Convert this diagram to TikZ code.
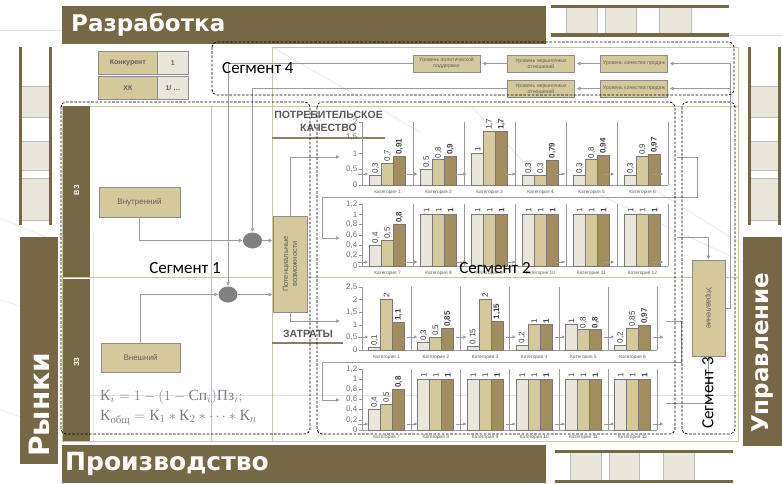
\documentclass[tikz,border=0pt]{standalone}
\usepackage{amsmath}
\usepackage{fontspec}
\setmainfont{Liberation Sans}
\newfontfamily\hdfont{DejaVu Sans}
\newfontfamily\segfont{Carlito}
\newfontfamily\frmfont{Liberation Serif}
\usetikzlibrary{arrows.meta,calc,shapes.geometric}
\definecolor{brownbar}{RGB}{118,103,69}
\definecolor{tanfill}{RGB}{213,201,155}
\definecolor{creamc}{RGB}{234,230,220}
\definecolor{darkbarc}{RGB}{163,141,94}
\definecolor{tanline}{RGB}{208,196,160}
\definecolor{conn}{RGB}{150,156,166}
\definecolor{boxline}{RGB}{140,140,140}
\definecolor{bargray}{RGB}{120,120,120}
\definecolor{txtgray}{RGB}{95,95,95}
\definecolor{faint}{RGB}{226,226,226}
\definecolor{ulc}{RGB}{140,128,98}
\definecolor{cellline}{RGB}{185,188,195}
\pgfkeys{/pgf/number format/.cd, use comma, assume math mode=true}

\newcommand{\chartrow}[8]{%
 \draw[axisl] (362,#5) -- (362,#1) -- ({362+6*#3},#1);
 \foreach \k in {1,...,6} \draw[axisl] ({362+\k*#3},#1) -- ({362+\k*#3},#5);
 \foreach \v [count=\n] in {#8} {%
   \draw[axisl] (359,{#1-\v*#2}) -- (362,{#1-\v*#2});
   \node[axlab] (t-#1-\n) at (357.5,{#1-\v*#2}) {\pgfmathprintnumber{\v}};
 }
 \foreach \i/\a/\b/\c in {#7} {%
   \pgfmathsetmacro\cx{362+(\i+0.5)*#3}%
   \pgfmathtruncatemacro\cnum{#4+\i}%
   \filldraw[barA] ({\cx-18},#1) rectangle ({\cx-6},{#1-\a*#2});
   \filldraw[barB] ({\cx-6},#1) rectangle ({\cx+6},{#1-\b*#2});
   \filldraw[barC] ({\cx+6},#1) rectangle ({\cx+18},{#1-\c*#2});
   \node[vlab] (va-#1-\i) at ({\cx-12},{#1-\a*#2-1}) {\pgfmathprintnumber{\a}};
   \node[vlab] (vb-#1-\i) at (\cx,{#1-\b*#2-1}) {\pgfmathprintnumber{\b}};
   \node[vlab,font=\bfseries\fontsize{8}{9}\selectfont] (vc-#1-\i) at ({\cx+12},{#1-\c*#2-1}) {\pgfmathprintnumber{\c}};
   \node[catlab] (cat-#1-\i) at (\cx,{#1+7}) {Категория \cnum};
 }
 \foreach \k in {0,...,6} \draw[minarr] ({358+\k*49.2},#6) -- ({368+\k*49.2},#6);
}

\begin{document}
\begin{tikzpicture}[x=1pt,y=-1pt,
 cn/.style={draw=conn, line width=0.7pt, -{Triangle[length=3.5pt,width=3.5pt]}, shorten >=0.5pt},
 cnl/.style={draw=conn, line width=0.7pt},
 seg/.style={draw=black, line width=0.75pt, dash pattern=on 2.6pt off 1.6pt, rounded corners=5pt},
 tbox/.style={draw=boxline, fill=tanfill, line width=0.8pt, inner sep=0pt, font=\fontsize{8}{9}\selectfont, text=txtgray},
 sbox/.style={tbox, font=\fontsize{5.2}{6}\selectfont, align=center, minimum width=67pt, minimum height=17pt},
 tcell/.style={draw=boxline, line width=0.8pt, inner sep=0pt, font=\bfseries\fontsize{7}{8}\selectfont, text=txtgray, minimum height=23pt, anchor=north west},
 hdbar/.style={fill=brownbar, text=white, font=\hdfont\bfseries\fontsize{23}{26}\selectfont, inner sep=0pt},
 hdtxt/.style={text=white, font=\hdfont\bfseries\fontsize{23}{26}\selectfont, inner sep=0pt},
 seglab/.style={font=\segfont\fontsize{17}{19}\selectfont, text=black, inner sep=0pt},
 vlab/.style={rotate=90, anchor=west, inner sep=0.5pt, font=\fontsize{8}{9}\selectfont, text=black!75},
 catlab/.style={font=\fontsize{4.8}{5}\selectfont, text=txtgray, inner sep=0pt},
 axlab/.style={anchor=east, font=\fontsize{8}{9}\selectfont, text=black!55, inner sep=0pt},
 axisl/.style={draw=black!40, line width=0.6pt},
 barA/.style={fill=creamc, draw=bargray, line width=0.8pt},
 barB/.style={fill=tanfill, draw=bargray, line width=0.8pt},
 barC/.style={fill=darkbarc, draw=bargray, line width=0.8pt},
 minarr/.style={draw=conn, line width=0.6pt, -{Triangle[length=3pt,width=3pt]}},
 faintl/.style={draw=faint, line width=0.6pt},
 ladder/.style={fill=brownbar},
 lcell/.style={fill=creamc, draw=cellline, line width=0.8pt},
 lanebar/.style={fill=brownbar, text=white, font=\bfseries\fontsize{7.5}{8}\selectfont, inner sep=0pt},
 circ/.style={ellipse, fill=black!50, minimum width=19pt, minimum height=16pt, inner sep=0pt},
 ul/.style={draw=ulc, line width=1.6pt},
 bigcap/.style={font=\bfseries\fontsize{10.5}{12.5}\selectfont, text=black!65, align=center, inner sep=0pt}
]
\useasboundingbox (0,0) rectangle (782,483);
\fill[white] (0,0) rectangle (782,483);

% faint background lines
\draw[faintl] (0,30) -- (62,30);
\draw[faintl] (729,35) -- (782,35);
\draw[faintl] (0,218) -- (62,244);
\draw[faintl] (0,300) -- (62,318);
\draw[faintl] (0,410) -- (62,430);
\draw[faintl] (272,47) -- (420,132);
\draw[faintl] (470,105) -- (560,200);
\draw[faintl] (600,195) -- (743,262);
\draw[faintl] (650,187) -- (743,245);
\draw[faintl] (90,395) -- (738,395);
\draw[faintl] (93,232) -- (93,441);

% ladders
\fill[ladder] (551,5) rectangle (729,8);
\fill[ladder] (551,33) rectangle (729,37);
\foreach \a/\b in {566/597,605/636,659/691}{\fill[creamc] (\a,8) rectangle (\b,33); \draw[cellline,line width=0.8pt] (\a,8) -- (\a,33) (\b,8) -- (\b,33);}
\fill[ladder] (555,450) rectangle (733,453);
\fill[ladder] (555,480) rectangle (733,483);
\foreach \a/\b in {570/601,609/639,663/694}{\fill[creamc] (\a,453) rectangle (\b,480); \draw[cellline,line width=0.8pt] (\a,453) -- (\a,480) (\b,453) -- (\b,480);}
\fill[ladder] (19,47) rectangle (22,225);
\fill[ladder] (49,47) rectangle (52,225);
\fill[ladder] (748,47) rectangle (751,225);
\fill[ladder] (778,47) rectangle (781,225);
\foreach \a/\b in {86/117,141/170,178/220}{
  \fill[creamc] (22,\a) rectangle (49,\b); \draw[cellline,line width=0.8pt] (22,\a) -- (49,\a) (22,\b) -- (49,\b);
  \fill[creamc] (751,\a) rectangle (778,\b); \draw[cellline,line width=0.8pt] (751,\a) -- (778,\a) (751,\b) -- (778,\b);}

% header bars
\node[hdbar, anchor=north west, minimum height=38pt, text width=466pt, inner xsep=9pt] (razr) at (62,6) {Разработка};
\node[hdbar, anchor=north west, minimum height=38pt, text width=478pt, inner xsep=3pt, font=\hdfont\bfseries\fontsize{25}{28}\selectfont] (proizv) at (62,445) {Производство};
\node[fill=brownbar, anchor=north west, minimum width=38pt, minimum height=227pt, inner sep=0pt] (rynbar) at (20,237) {};
\node[hdtxt, rotate=90, anchor=west, font=\hdfont\bfseries\fontsize{28}{30}\selectfont] (ryntxt) at (39.5,457) {Рынки};
\node[fill=brownbar, anchor=north west, minimum width=39pt, minimum height=209pt, inner sep=0pt] (uprbar) at (743,237) {};
\node[hdtxt, rotate=90, anchor=west] (uprtxt) at (762.5,433) {Управление};

% table
\node[tcell, fill=tanfill, minimum width=59pt] (konk) at (98,51) {Конкурент};
\node[tcell, fill=creamc, minimum width=31pt] (konk1) at (157,51) {1};
\node[tcell, fill=tanfill, minimum width=59pt] (xk) at (98,76) {ХК};
\node[tcell, fill=creamc, minimum width=31pt] (xk1) at (157,76) {1/ …};

% swimlane frame
\draw[tanline, line width=1pt] (272,106) -- (272,47) -- (738,47) -- (738,441);
\draw[tanline, line width=1pt] (62,106) rectangle (738,441);
\draw[tanline, line width=1pt] (62,277) -- (738,277);
\draw[tanline, line width=1pt] (211,106) -- (211,441);
\draw[tanline, line width=1pt] (272,106) -- (272,441);
\node[lanebar, minimum width=27pt, minimum height=171pt] (vzbar) at (76.5,191.5) {};
\node[rotate=90, text=white, font=\bfseries\fontsize{7.5}{8}\selectfont, inner sep=0pt] (vztxt) at (76.5,190) {ВЗ};
\node[lanebar, minimum width=27pt, minimum height=162pt] (zzbar) at (76.5,360) {};
\node[rotate=90, text=white, font=\bfseries\fontsize{7.5}{8}\selectfont, inner sep=0pt] (zztxt) at (76.5,362) {ЗЗ};

% captions
\node[bigcap] (potr) at (328.5,121.5) {ПОТРЕБИТЕЛЬСКОЕ\\КАЧЕСТВО};
\draw[ul] (272,138) -- (385,138);
\node[bigcap] (zatr) at (308,334) {ЗАТРАТЫ};
\draw[ul] (272,343) -- (343,343);

% segment 4 boxes
\node[sbox] (pp) at (446.5,63.5) {Уровень политической\\поддержки};
\node[sbox] (no1) at (541,63.5) {Уровень нерыночных\\отношений};
\node[sbox] (kp1) at (634,63.5) {Уровень качества продаж};
\node[sbox] (no2) at (541,88.5) {Уровень нерыночных\\отношений};
\node[sbox] (kp2) at (634,88.5) {Уровень качества продаж};

% left boxes
\node[tbox, minimum width=81pt, minimum height=30pt] (vnutr) at (139.5,202) {Внутренний};
\node[tbox, minimum width=79pt, minimum height=29pt] (vnesh) at (140.5,357.5) {Внешний};
\node[circ] (c1) at (252.5,240.5) {};
\node[circ] (c2) at (228,294.5) {};
\node[tbox, minimum width=34pt, minimum height=96pt] (pvbox) at (290,264) {};
\node[rotate=90, align=center, font=\fontsize{7.5}{9}\selectfont, text=txtgray, inner sep=0pt] (pvtxt) at (pvbox.center) {Потенциальные\\возможности};
\node[tbox, minimum width=33pt, minimum height=96pt] (uprbox) at (708.5,308) {};
\node[rotate=-90, font=\fontsize{7.5}{9}\selectfont, text=txtgray, inner sep=0pt] (uprboxtxt) at (uprbox.center) {Управление};

% chart row input / output points
\coordinate (r1in) at (340,157);
\coordinate (r2in) at (340,238);
\coordinate (r3in) at (340,321);
\coordinate (r4in) at (340,400);
\coordinate (r1out) at (677,157);
\coordinate (r2out) at (677,237);
\coordinate (r3out) at (666,321);
\coordinate (r4out) at (666,403);

% charts
\chartrow{185}{31.5}{51}{1}{122}{174}{0/0.3/0.7/0.91,1/0.5/0.8/0.9,2/1/1.7/1.7,3/0.3/0.3/0.79,4/0.3/0.8/0.94,5/0.3/0.9/0.97}{0,0.5,1,1.5,2}
\chartrow{266}{51.7}{51}{7}{204}{262}{0/0.4/0.5/0.8,1/1/1/1,2/1/1/1,3/1/1/1,4/1/1/1,5/1/1/1}{0,0.2,0.4,0.6,0.8,1,1.2}
\chartrow{350}{25.2}{49.2}{1}{287}{337}{0/0.1/2/1.1,1/0.3/0.5/0.85,2/0.15/2/1.15,3/0.2/1/1,4/1/0.8/0.8,5/0.2/0.85/0.97}{0,0.5,1,1.5,2,2.5}
\chartrow{430}{51}{49.2}{7}{369}{424}{0/0.4/0.5/0.8,1/1/1/1,2/1/1/1,3/1/1/1,4/1/1/1,5/1/1/1}{0,0.2,0.4,0.6,0.8,1,1.2}

% connectors
\draw[cn] (vnutr.south) |- (c1.west);
\draw[cn] (c1.east) -- (pvbox.west |- c1.east);
\draw[cn] (vnesh.north) |- (c2.west);
\draw[cn] (c2.east) -- (pvbox.west |- c2.east);
\draw[cn, shorten >=2pt] (kp1.west) -- (no1.east);
\draw[cn, shorten >=2pt] (no1.west) -- (pp.east);
\draw[cn] (pp.west) -| (c2.north);
\draw[cn, shorten >=2pt] (kp2.west) -- (no2.east);
\draw[cn] (no2.west) -| (c1.north);
\draw[cn, shorten >=2pt] (uprbox.east) -- ++(5,0) |- (kp1.east);
\draw[cn, shorten >=2pt] ($(uprbox.east)+(5,0)$) |- (kp2.east);
\draw[cn] (pvbox.north) |- (r1in);
\draw[cn] (pvbox.south) |- (r3in);
\draw[cn] (r1out) -- (697,157) -- (697,197) -- (322,197) |- (r2in);
\draw[cn] (r2out) -| (uprbox.north);
\draw[cn] (r3out) -- (681,321) -- (681,362) -- (322,362) |- (r4in);
\draw[cn] (r4out) -| (uprbox.south);

% segments
\draw[seg] (212,42) rectangle (734,95);
\draw[seg] (61,102) rectangle (310,434);
\draw[seg] (317,102) rectangle (675,434);
\draw[seg] (682,102) rectangle (735,434);
\node[seglab, anchor=west] (s4) at (222,68) {Сегмент 4};
\node[seglab] (s1) at (185,268) {Сегмент 1};
\node[seglab] (s2) at (495,268) {Сегмент 2};
\node[seglab, rotate=90] (s3) at (708,393) {Сегмент 3};

% formulas
\node[anchor=west, text=black!50, inner sep=0pt, font=\frmfont\fontsize{15.5}{17}\selectfont] (f1) at (100,397) {$\text{К}_i = 1 - (1 - \text{Сп}_i)\text{Пз}_i;$};
\node[anchor=west, text=black!50, inner sep=0pt, font=\frmfont\fontsize{15.5}{17}\selectfont] (f2) at (100,418) {$\text{К}_{\text{общ}} = \text{К}_1 * \text{К}_2 * \cdots * \text{К}_n$};
\end{tikzpicture}
\end{document}
